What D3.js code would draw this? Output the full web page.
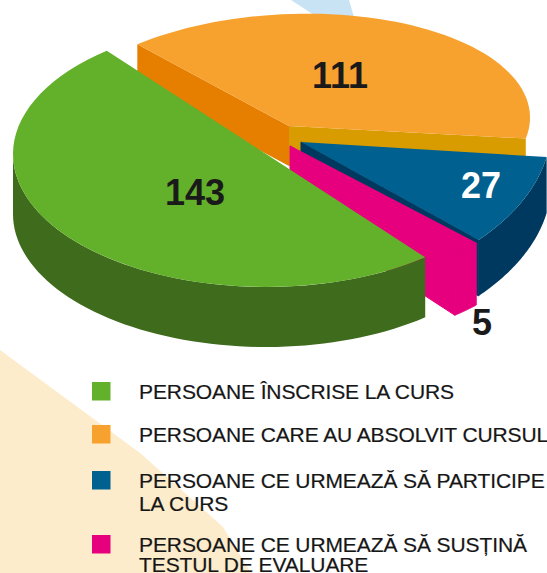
<!DOCTYPE html>
<html>
<head>
<meta charset="utf-8">
<script src="https://cdnjs.cloudflare.com/ajax/libs/d3/7.8.5/d3.min.js"></script>
<style>
  html, body { margin: 0; padding: 0; background: #fff; overflow: hidden; }
  text { font-family: "Liberation Sans", Arial, sans-serif; }
</style>
</head>
<body>
<script>
// date
const categories = ['PERSOANE ÎNSCRISE LA CURS', 'PERSOANE CARE AU ABSOLVIT CURSUL',
    'PERSOANE CE URMEAZĂ SĂ PARTICIPE|LA CURS', 'PERSOANE CE URMEAZĂ SĂ SUSȚINĂ|TESTUL DE EVALUARE'];
const values = [143, 111, 27, 5];

// culori: fata de sus, perete, exterior
const topColors = ['#63b02a', '#f7a12e', '#00608f', '#e6007e'];
const sideColors = ['#3e6b1c', '#e67f00', '#00395f', '#e6007e'];

// fiecare felie are propriul centru in perspectiva
const slices = [
    {cx: 266, cy: 154, rx: 253, ry: 133, k: 0, depth: 60, lx: 195, ly: 192, tc: '#1a1a1a'},
    {cx: 289, cy: 126, rx: 241, ry: 112, k: -0.035, depth: 40, lx: 340, ly: 75, tc: '#1a1a1a'},
    {cx: 301, cy: 142, rx: 250, ry: 153, k: -0.0545, depth: 56, lx: 481, ly: 185, tc: '#ffffff'},
    {cx: 290, cy: 146, rx: 262, ry: 138, k: 0, depth: 62, lx: 482, ly: 322, tc: '#1a1a1a'}
];

const width = 547, height = 573;
const deg = Math.PI / 180;

const svg = d3.select('body').append('svg')
    .attr('width', width)
    .attr('height', height);

// fundal
svg.append('path')
    .attr('d', 'M291,0 L349,0 L354,17 L314,15 Z')
    .attr('fill', '#c8e4f4');
svg.append('path')
    .attr('d', 'M0,350 L140,453 L223,527 L251,573 L0,573 Z')
    .attr('fill', '#fdeccb');

const pie = d3.pie().sort(null).startAngle(141 * deg).endAngle(501 * deg);
const arcs = pie(values);
const line = d3.line();

function pt(s, a, r = 1, dy = 0) {
    const dx = s.rx * r * Math.sin(a);
    return [s.cx + dx, s.cy - s.ry * r * Math.cos(a) + s.k * dx + dy];
}

function sample(a0, a1) {
    const n = 60;
    return d3.range(n + 1).map(i => a0 + (a1 - a0) * i / n);
}

// ordinea de desenare: portocaliu, albastru, roz, verde
const order = [1, 2, 3, 0];

order.forEach(i => {
    const s = slices[i], a = arcs[i];
    const g = svg.append('g');
    const apex = pt(s, 0, 0);
    const wall = ang => [apex, pt(s, ang), pt(s, ang, 1, s.depth), pt(s, ang, 0, s.depth)];

    if (i === 1) {
        // peretii interiori ai feliei portocalii
        g.append('path').attr('d', line(wall(a.startAngle)) + 'Z').attr('fill', '#e67f00');
        g.append('path').attr('d', line(wall(a.endAngle)) + 'Z').attr('fill', '#d99c00');
    }
    if (i === 2 || i === 3) {
        g.append('path').attr('d', line(wall(a.endAngle)) + 'Z')
            .attr('fill', sideColors[i]).attr('stroke', sideColors[i]);
    }

    // marginea exterioara, doar partea vizibila
    if (i !== 1) {
        const end = Math.min(a.endAngle, 270 * deg) > a.startAngle ? Math.min(a.endAngle, 270 * deg) : a.endAngle;
        const angs = sample(a.startAngle, end);
        const rim = angs.map(t => pt(s, t)).concat(angs.slice().reverse().map(t => pt(s, t, 1, s.depth)));
        g.append('path').attr('d', line(rim) + 'Z')
            .attr('fill', sideColors[i]).attr('stroke', i === 3 ? sideColors[i] : 'none');
    }

    // fata de sus
    const face = [apex].concat(sample(a.startAngle, a.endAngle).map(t => pt(s, t)));
    g.append('path').attr('d', line(face) + 'Z')
        .attr('fill', topColors[i]).attr('stroke', i === 3 ? topColors[i] : 'none');
});

// etichete
svg.append('g').selectAll('text')
    .data(values)
    .join('text')
    .attr('x', (d, i) => slices[i].lx)
    .attr('y', (d, i) => slices[i].ly)
    .attr('dy', '0.36em')
    .attr('text-anchor', 'middle')
    .attr('font-size', 36)
    .attr('font-weight', 'bold')
    .attr('fill', (d, i) => slices[i].tc)
    .text(d => d);

// legenda
const rowY = d3.scaleOrdinal().domain(categories).range([382, 425, 471, 535]);
const rowGap = d3.scaleOrdinal().domain(categories).range([0, 0, 23, 20]);

const legend = svg.append('g').selectAll('g')
    .data(categories)
    .join('g')
    .attr('transform', d => `translate(0, ${rowY(d)})`);

legend.append('rect')
    .attr('x', 92).attr('y', 0)
    .attr('width', 18.5).attr('height', 18.5)
    .attr('fill', (d, i) => topColors[i]);

legend.each(function(d) {
    d3.select(this).selectAll('text')
        .data(d.split('|'))
        .join('text')
        .attr('x', 139)
        .attr('y', (t, j) => 16.5 + j * rowGap(d))
        .attr('font-size', 21)
        .attr('letter-spacing', '-0.1')
        .attr('fill', '#161616')
        .attr('stroke', '#161616')
        .attr('stroke-width', 0.2)
        .text(t => t);
});
</script>
</body>
</html>
